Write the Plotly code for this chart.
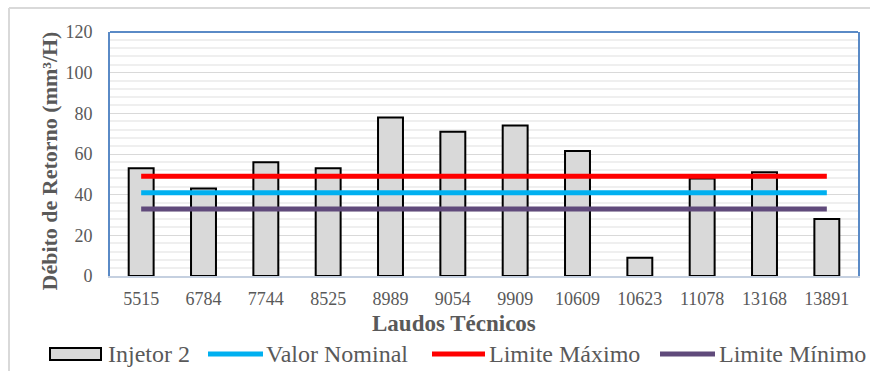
import plotly.graph_objects as go

# Technical report numbers (categories) and measured return flow for injector 2
laudos = ["5515", "6784", "7744", "8525", "8989", "9054", "9909",
          "10609", "10623", "11078", "13168", "13891"]
injetor_2 = [53, 43, 56, 53, 78, 71, 74, 61.5, 9, 48, 51, 28]

# Reference levels (mm³/H)
valor_nominal = 41
limite_maximo = 49
limite_minimo = 33

FONT = "'Liberation Serif', 'Times New Roman', serif"
GREY_TXT = "#595959"

series = [
    ("Valor Nominal", valor_nominal, "#00b0f0"),
    ("Limite Máximo", limite_maximo, "#ff0000"),
    ("Limite Mínimo", limite_minimo, "#604a7b"),
]

fig = go.Figure()
fig.add_trace(go.Bar(
    x=laudos, y=injetor_2, name="Injetor 2",
    marker=dict(color="#d9d9d9", line=dict(color="#000000", width=2)),
    width=0.4, showlegend=False,
))
# draw order: max, nominal, min so all lie over the bars
for name, val, col in [series[1], series[0], series[2]]:
    fig.add_trace(go.Scatter(
        x=[laudos[0], laudos[-1]], y=[val, val], name=name, mode="lines",
        line=dict(color=col, width=5), showlegend=False,
    ))

W, H = 870, 371
L, R, T, B = 110, 12, 32, 95
pw, ph = W - L - R, H - T - B


def px(xp):
    return (xp - L) / pw


def py(yp):
    return (H - B - yp) / ph


shapes = []
# outer chart frame (light grey, continues past the visible edges)
shapes.append(dict(type="line", xref="paper", yref="paper",
                   x0=px(9), x1=px(W + 5), y0=py(8), y1=py(8),
                   line=dict(color="#d9d9d9", width=2)))
shapes.append(dict(type="line", xref="paper", yref="paper",
                   x0=px(9), x1=px(9), y0=py(8), y1=py(H + 5),
                   line=dict(color="#d9d9d9", width=2)))
# top edge of plot frame
shapes.append(dict(type="line", xref="paper", yref="paper",
                   x0=0, x1=1, y0=1, y1=1,
                   line=dict(color="#5a8ac6", width=2)))

annotations = []
# axis titles
annotations.append(dict(text="<b>Débito de Retorno (mm³/H)</b>", x=px(49), y=py(161.5),
                        xref="paper", yref="paper", xanchor="center", yanchor="middle",
                        textangle=-90, showarrow=False,
                        font=dict(family=FONT, size=22, color=GREY_TXT)))
annotations.append(dict(text="<b>Laudos Técnicos</b>", x=px(454), y=py(323),
                        xref="paper", yref="paper", xanchor="center", yanchor="middle",
                        showarrow=False,
                        font=dict(family=FONT, size=23, color=GREY_TXT)))

# custom legend row
leg_y = 354
shapes.append(dict(type="rect", xref="paper", yref="paper",
                   x0=px(50), x1=px(101), y0=py(348), y1=py(360),
                   fillcolor="#d9d9d9", line=dict(color="#000000", width=2)))
annotations.append(dict(text="Injetor 2", x=px(106), y=py(leg_y), xref="paper",
                        yref="paper", xanchor="left", yanchor="middle",
                        showarrow=False, font=dict(family=FONT, size=24, color=GREY_TXT)))
leg_items = [(208, 263, 264, series[0]), (432, 485, 487, series[1]), (660, 715, 717, series[2])]
for x0, x1, xt, (name, _, col) in leg_items:
    shapes.append(dict(type="line", xref="paper", yref="paper",
                       x0=px(x0), x1=px(x1), y0=py(leg_y), y1=py(leg_y),
                       line=dict(color=col, width=5)))
    annotations.append(dict(text=name, x=px(xt), y=py(leg_y), xref="paper",
                            yref="paper", xanchor="left", yanchor="middle",
                            showarrow=False, font=dict(family=FONT, size=24, color=GREY_TXT)))

fig.update_layout(
    width=W, height=H,
    margin=dict(l=L, r=R, t=T, b=B, autoexpand=False),
    paper_bgcolor="#ffffff", plot_bgcolor="#ffffff",
    font=dict(family=FONT, color=GREY_TXT),
    bargap=0.6,
    showlegend=False,
    shapes=shapes,
    annotations=annotations,
    xaxis=dict(
        type="category",
        showline=True, linecolor="#c5d0e0", linewidth=1.5,
        showgrid=False, ticks="",
        tickfont=dict(family=FONT, size=18, color=GREY_TXT),
        ticklabelstandoff=6,
        automargin=False,
    ),
    yaxis=dict(
        range=[0, 120], dtick=20,
        showline=True, mirror=True, linecolor="#5a8ac6", linewidth=2,
        showgrid=True, gridcolor="#d9d9d9", gridwidth=1,
        minor=dict(dtick=4, showgrid=True, gridcolor="#efefef", gridwidth=2),
        zeroline=False, ticks="",
        tickfont=dict(family=FONT, size=18, color=GREY_TXT),
        ticklabelstandoff=12,
        automargin=False,
    ),
)

fig.write_html("out.html")
